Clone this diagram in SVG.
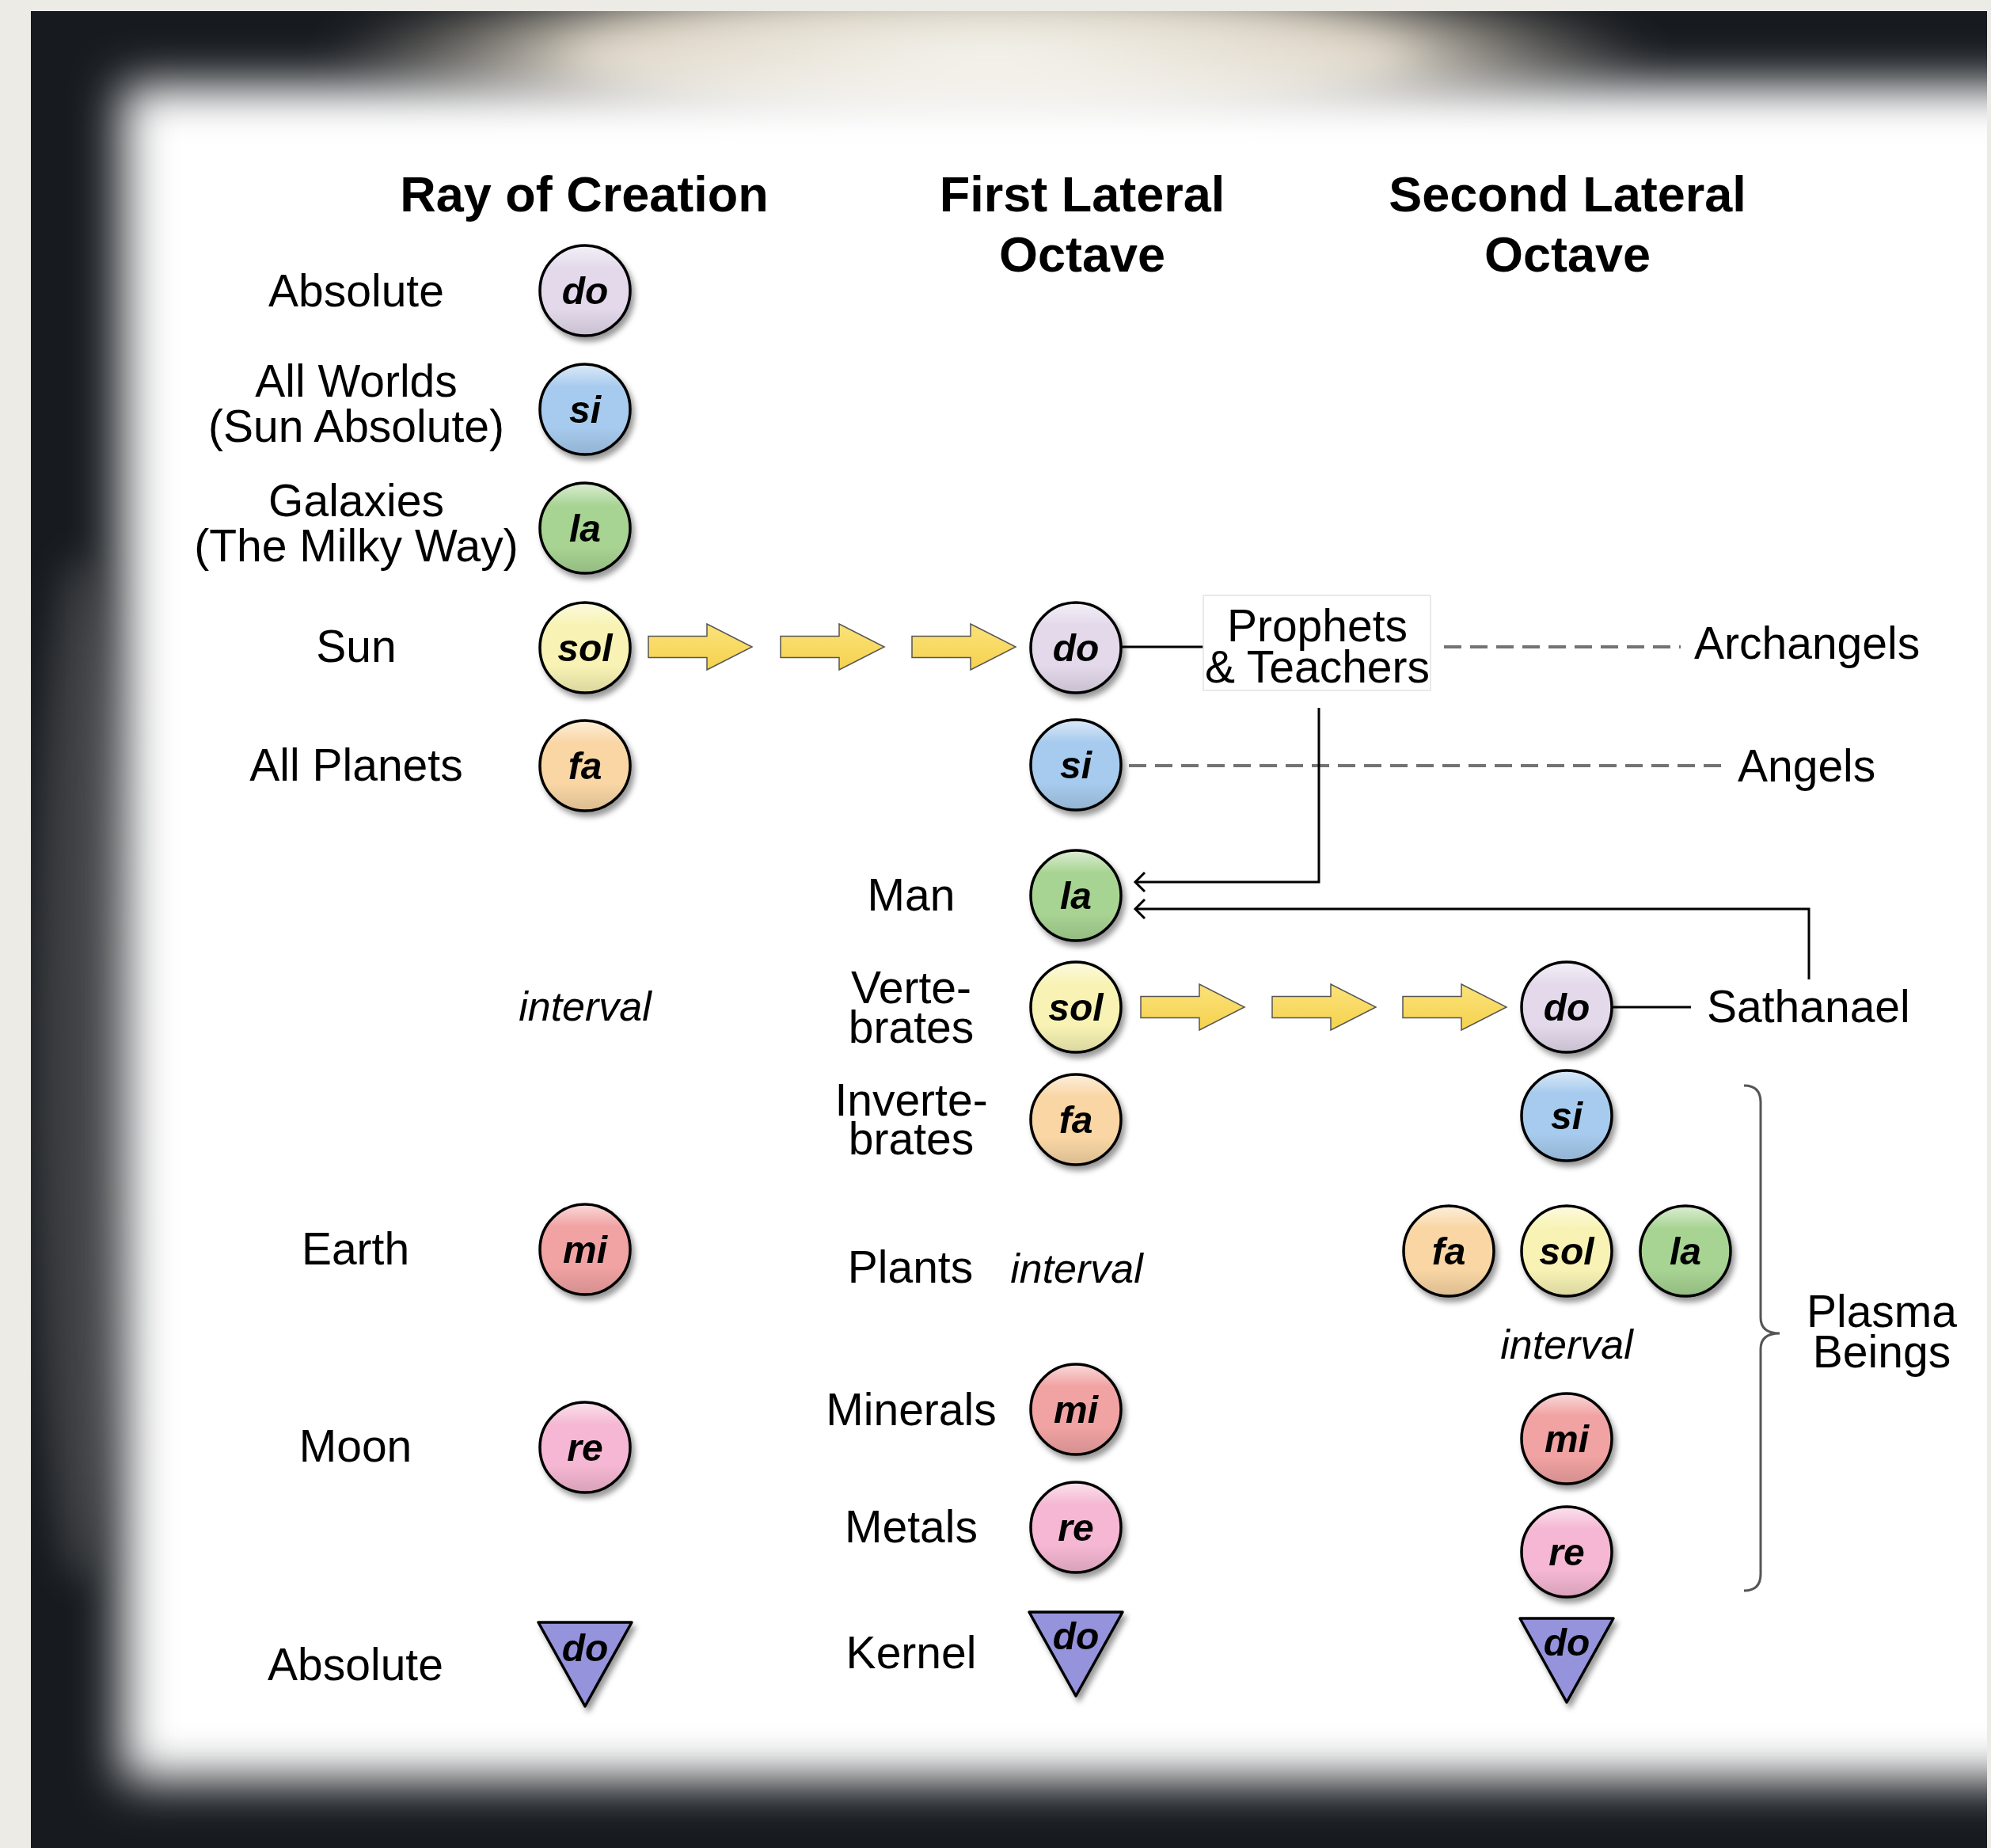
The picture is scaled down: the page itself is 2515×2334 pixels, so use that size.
<svg xmlns="http://www.w3.org/2000/svg" width="2515" height="2334" viewBox="0 0 2515 2334">
<defs>
<style>
.h{font-family:"Liberation Sans",Arial,Helvetica,sans-serif;font-weight:bold;font-size:63px;text-anchor:middle;fill:#000}
.l{font-family:"Liberation Sans",Arial,Helvetica,sans-serif;font-size:57px;text-anchor:middle;fill:#000}
.ls{font-family:"Liberation Sans",Arial,Helvetica,sans-serif;font-size:57px;text-anchor:start;fill:#000}
.iv{font-family:"Liberation Sans",Arial,Helvetica,sans-serif;font-style:italic;font-size:52px;text-anchor:middle;fill:#000}
.n{font-family:"Liberation Sans",Arial,Helvetica,sans-serif;font-weight:bold;font-style:italic;font-size:48px;text-anchor:middle;fill:#000}
.gl{fill:url(#gloss);stroke:#000;stroke-width:3.5}
.tri{stroke:#000;stroke-width:3.5;stroke-linejoin:round;fill:#9593db}
.do{fill:#e3d9eb}.si{fill:#a7cbee}.la{fill:#a8d493}.sol{fill:#f8f3b4}.fa{fill:#f9d6a4}.mi{fill:#f1a2a2}.re{fill:#f5b7d3}
.ya{fill:url(#ygrad);stroke:#555;stroke-width:1.5}
.ln{fill:none;stroke:#000;stroke-width:3}
.dash{fill:none;stroke:#737373;stroke-width:4;stroke-dasharray:22 11}
</style>
<linearGradient id="gloss" x1="0" y1="0" x2="0" y2="1">
<stop offset="0" stop-color="#fff" stop-opacity="0.6"/>
<stop offset="0.25" stop-color="#fff" stop-opacity="0"/>
<stop offset="0.7" stop-color="#000" stop-opacity="0"/>
<stop offset="1" stop-color="#000" stop-opacity="0.12"/>
</linearGradient>
<linearGradient id="ygrad" x1="0" y1="0" x2="0" y2="1">
<stop offset="0" stop-color="#fbe27a"/>
<stop offset="1" stop-color="#f5d24e"/>
</linearGradient>
<radialGradient id="cloud" cx="0.5" cy="0.5" r="0.5">
<stop offset="0" stop-color="#f6f5ef"/>
<stop offset="0.6" stop-color="#ddd5c6"/>
<stop offset="1" stop-color="#9c9488" stop-opacity="0"/>
</radialGradient>
<filter id="sh" x="-30%" y="-30%" width="160%" height="160%">
<feDropShadow dx="4" dy="6" stdDeviation="3.5" flood-color="#000" flood-opacity="0.4"/>
</filter>
<filter id="blur" filterUnits="userSpaceOnUse" x="0" y="0" width="2515" height="2334">
<feGaussianBlur stdDeviation="30"/>
</filter>
<filter id="blur2" filterUnits="userSpaceOnUse" x="0" y="0" width="2515" height="2334">
<feGaussianBlur stdDeviation="22"/>
</filter>
<clipPath id="frameclip"><rect x="39" y="14" width="2471" height="2320"/></clipPath>
<path id="yarrow" d="M0,-13.5 H74 V-29 L131,0 L74,29 V13.5 H0 Z"/>
<path id="chev" d="M12,-12 L0,0 L12,12"/>
</defs>

<g id="frame">
<rect x="0" y="0" width="2515" height="2334" fill="#ecebe6"/>
<g clip-path="url(#frameclip)">
<rect x="39" y="14" width="2471" height="2320" fill="#171b20"/>
<ellipse cx="100" cy="1350" rx="55" ry="650" fill="#6d6d6d" opacity="0.45" filter="url(#blur2)"/>
<ellipse cx="1250" cy="70" rx="850" ry="120" fill="url(#cloud)" filter="url(#blur2)"/>
<rect x="155" y="108" width="2500" height="2140" fill="#fff" filter="url(#blur)"/>
</g>
</g>

<g id="headings">
<text class="h" x="738" y="267">Ray of Creation</text>
<text class="h" x="1367" y="267">First Lateral</text>
<text class="h" x="1367" y="343">Octave</text>
<text class="h" x="1980" y="267">Second Lateral</text>
<text class="h" x="1980" y="343">Octave</text>
</g>

<g id="labels">
<text class="l" x="450" y="387">Absolute</text>
<text class="l" x="450" y="501">All Worlds</text>
<text class="l" x="450" y="558">(Sun Absolute)</text>
<text class="l" x="450" y="652">Galaxies</text>
<text class="l" x="450" y="709">(The Milky Way)</text>
<text class="l" x="450" y="836">Sun</text>
<text class="l" x="450" y="986">All Planets</text>
<text class="iv" x="739" y="1289">interval</text>
<text class="l" x="449" y="1597">Earth</text>
<text class="l" x="449" y="1846">Moon</text>
<text class="l" x="449" y="2122">Absolute</text>
<text class="l" x="1151" y="1150">Man</text>
<text class="l" x="1151" y="1267">Verte-</text>
<text class="l" x="1151" y="1317">brates</text>
<text class="l" x="1151" y="1409">Inverte-</text>
<text class="l" x="1151" y="1458">brates</text>
<text class="l" x="1150" y="1620">Plants</text>
<text class="iv" x="1360" y="1620">interval</text>
<text class="l" x="1151" y="1800">Minerals</text>
<text class="l" x="1151" y="1948">Metals</text>
<text class="l" x="1151" y="2107">Kernel</text>
<text class="ls" x="2140" y="832">Archangels</text>
<text class="ls" x="2195" y="987">Angels</text>
<text class="ls" x="2156" y="1291">Sathanael</text>
<text class="iv" x="1979" y="1716">interval</text>
<text class="l" x="2377" y="1676">Plasma</text>
<text class="l" x="2377" y="1727">Beings</text>
</g>

<g id="connectors">
<use href="#yarrow" class="ya" x="819" y="817"/>
<use href="#yarrow" class="ya" x="986" y="817"/>
<use href="#yarrow" class="ya" x="1152" y="817"/>
<use href="#yarrow" class="ya" x="1441" y="1272"/>
<use href="#yarrow" class="ya" x="1607" y="1272"/>
<use href="#yarrow" class="ya" x="1772" y="1272"/>
<line class="ln" x1="1415" y1="817" x2="1520" y2="817" stroke-width="3.5"/>
<line class="ln" x1="2035" y1="1272" x2="2136" y2="1272" stroke-width="3.5"/>
<line class="dash" x1="1824" y1="817" x2="2123" y2="817"/>
<line class="dash" x1="1426" y1="967" x2="2180" y2="967"/>
<polyline class="ln" points="1666,894 1666,1114 1434,1114"/>
<use href="#chev" class="ln" x="1434" y="1114"/>
<polyline class="ln" points="2285,1237 2285,1148 1434,1148"/>
<use href="#chev" class="ln" x="1434" y="1148"/>
<path d="M2203,1371 Q2224,1371 2224,1392 V1664 Q2224,1684 2248,1684 Q2224,1684 2224,1704 V1988 Q2224,2009 2203,2009" fill="none" stroke="#555" stroke-width="3"/>
</g>

<g id="prophets">
<rect x="1520" y="752" width="287" height="120" fill="#fff" stroke="#e2e2e2" stroke-width="1.5"/>
<text class="l" x="1664" y="810">Prophets</text>
<text class="l" x="1664" y="862">&amp; Teachers</text>
</g>

<g id="ray-do" filter="url(#sh)"><circle class="do" cx="739" cy="367" r="57"/><circle class="gl" cx="739" cy="367" r="57"/><text class="n" x="739" y="384">do</text></g>
<g id="ray-si" filter="url(#sh)"><circle class="si" cx="739" cy="517" r="57"/><circle class="gl" cx="739" cy="517" r="57"/><text class="n" x="739" y="534">si</text></g>
<g id="ray-la" filter="url(#sh)"><circle class="la" cx="739" cy="667" r="57"/><circle class="gl" cx="739" cy="667" r="57"/><text class="n" x="739" y="684">la</text></g>
<g id="ray-sol" filter="url(#sh)"><circle class="sol" cx="739" cy="818" r="57"/><circle class="gl" cx="739" cy="818" r="57"/><text class="n" x="739" y="835">sol</text></g>
<g id="ray-fa" filter="url(#sh)"><circle class="fa" cx="739" cy="967" r="57"/><circle class="gl" cx="739" cy="967" r="57"/><text class="n" x="739" y="984">fa</text></g>
<g id="ray-mi" filter="url(#sh)"><circle class="mi" cx="739" cy="1578" r="57"/><circle class="gl" cx="739" cy="1578" r="57"/><text class="n" x="739" y="1595">mi</text></g>
<g id="ray-re" filter="url(#sh)"><circle class="re" cx="739" cy="1828" r="57"/><circle class="gl" cx="739" cy="1828" r="57"/><text class="n" x="739" y="1845">re</text></g>
<g id="ray-do2" filter="url(#sh)"><polygon class="tri" points="680,2049 798,2049 739,2155"/><text class="n" x="739" y="2098">do</text></g>

<g id="l1-do" filter="url(#sh)"><circle class="do" cx="1359" cy="818" r="57"/><circle class="gl" cx="1359" cy="818" r="57"/><text class="n" x="1359" y="835">do</text></g>
<g id="l1-si" filter="url(#sh)"><circle class="si" cx="1359" cy="966" r="57"/><circle class="gl" cx="1359" cy="966" r="57"/><text class="n" x="1359" y="983">si</text></g>
<g id="l1-la" filter="url(#sh)"><circle class="la" cx="1359" cy="1131" r="57"/><circle class="gl" cx="1359" cy="1131" r="57"/><text class="n" x="1359" y="1148">la</text></g>
<g id="l1-sol" filter="url(#sh)"><circle class="sol" cx="1359" cy="1272" r="57"/><circle class="gl" cx="1359" cy="1272" r="57"/><text class="n" x="1359" y="1289">sol</text></g>
<g id="l1-fa" filter="url(#sh)"><circle class="fa" cx="1359" cy="1414" r="57"/><circle class="gl" cx="1359" cy="1414" r="57"/><text class="n" x="1359" y="1431">fa</text></g>
<g id="l1-mi" filter="url(#sh)"><circle class="mi" cx="1359" cy="1780" r="57"/><circle class="gl" cx="1359" cy="1780" r="57"/><text class="n" x="1359" y="1797">mi</text></g>
<g id="l1-re" filter="url(#sh)"><circle class="re" cx="1359" cy="1929" r="57"/><circle class="gl" cx="1359" cy="1929" r="57"/><text class="n" x="1359" y="1946">re</text></g>
<g id="l1-do2" filter="url(#sh)"><polygon class="tri" points="1300,2036 1418,2036 1359,2142"/><text class="n" x="1359" y="2083">do</text></g>

<g id="l2-do" filter="url(#sh)"><circle class="do" cx="1979" cy="1272" r="57"/><circle class="gl" cx="1979" cy="1272" r="57"/><text class="n" x="1979" y="1289">do</text></g>
<g id="l2-si" filter="url(#sh)"><circle class="si" cx="1979" cy="1409" r="57"/><circle class="gl" cx="1979" cy="1409" r="57"/><text class="n" x="1979" y="1426">si</text></g>
<g id="l2-fa" filter="url(#sh)"><circle class="fa" cx="1830" cy="1580" r="57"/><circle class="gl" cx="1830" cy="1580" r="57"/><text class="n" x="1830" y="1597">fa</text></g>
<g id="l2-sol" filter="url(#sh)"><circle class="sol" cx="1979" cy="1580" r="57"/><circle class="gl" cx="1979" cy="1580" r="57"/><text class="n" x="1979" y="1597">sol</text></g>
<g id="l2-la" filter="url(#sh)"><circle class="la" cx="2129" cy="1580" r="57"/><circle class="gl" cx="2129" cy="1580" r="57"/><text class="n" x="2129" y="1597">la</text></g>
<g id="l2-mi" filter="url(#sh)"><circle class="mi" cx="1979" cy="1817" r="57"/><circle class="gl" cx="1979" cy="1817" r="57"/><text class="n" x="1979" y="1834">mi</text></g>
<g id="l2-re" filter="url(#sh)"><circle class="re" cx="1979" cy="1960" r="57"/><circle class="gl" cx="1979" cy="1960" r="57"/><text class="n" x="1979" y="1977">re</text></g>
<g id="l2-do2" filter="url(#sh)"><polygon class="tri" points="1920,2044 2038,2044 1979,2150"/><text class="n" x="1979" y="2091">do</text></g>
</svg>
